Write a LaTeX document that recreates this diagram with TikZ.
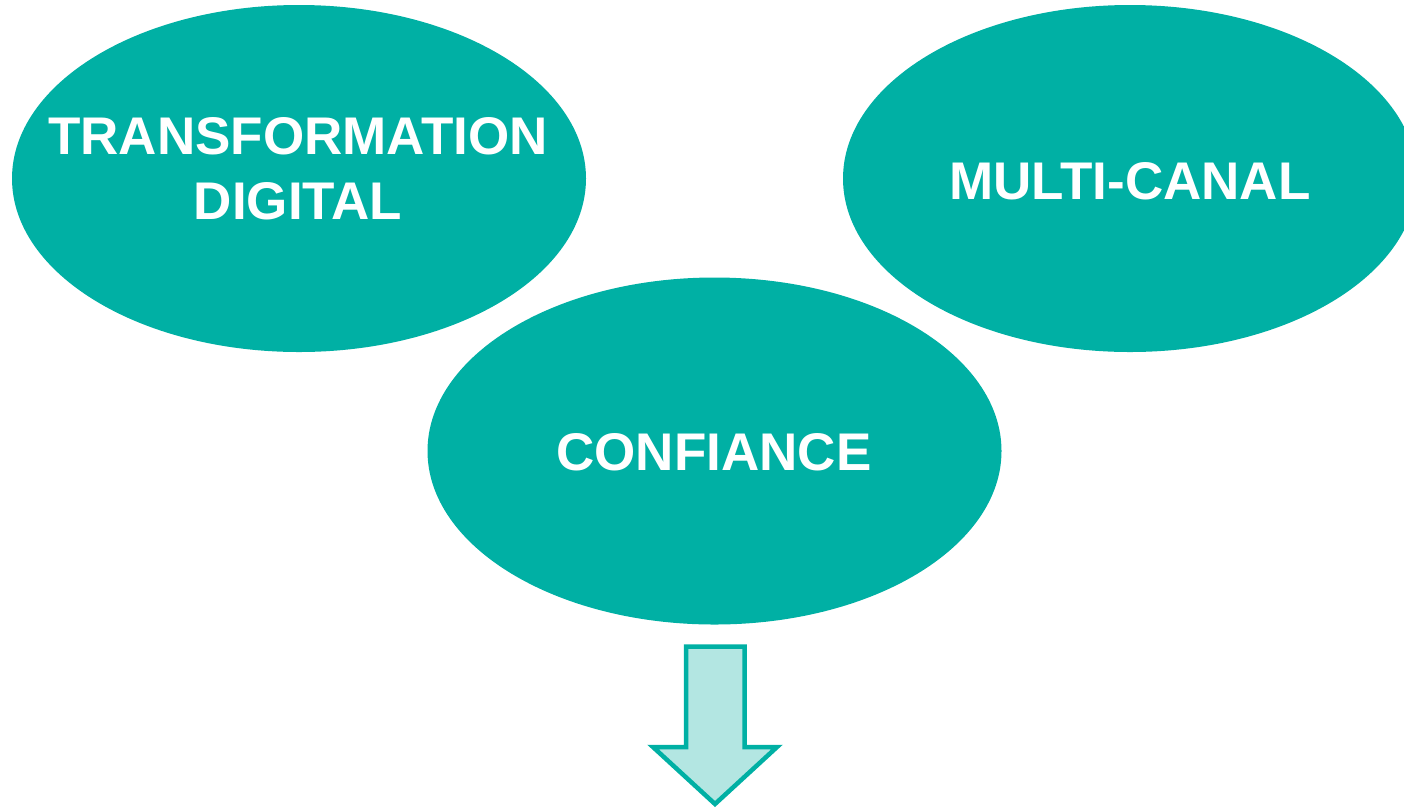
\documentclass[tikz,border=0pt]{standalone}
\usepackage{fontspec}
\setmainfont{Liberation Sans}
\usetikzlibrary{shapes.geometric}
\definecolor{teal1}{HTML}{00B0A4}
\definecolor{lightteal}{HTML}{B3E6E2}
\begin{document}
\begin{tikzpicture}[x=1pt,y=-1pt,
  bubble/.style={ellipse,fill=teal1,draw=none,minimum width=574pt,minimum height=347pt,inner sep=0pt},
  lbl/.style={text=white,font=\fontsize{53}{65}\selectfont\bfseries,align=center,inner sep=0pt},
  arrowshape/.style={fill=lightteal,draw=teal1,line width=4.5pt,line join=miter}]
\useasboundingbox (0,0) rectangle (1404,807);
\begin{scope}
\clip (0,0) rectangle (1404,807);
\node[bubble] (e1) at (299,178.5) {};
\node[bubble] (e2) at (1130,178.5) {};
\node[bubble] (e3) at (714.5,451) {};
\end{scope}
\node[lbl,anchor=base] (t1) at (298,219) {TRANSFORMATION\\DIGITAL};
\node[lbl,anchor=base] (t2) at (1130,199) {MULTI-CANAL};
\node[lbl,anchor=base] (t3) at (714,470.5) {CONFIANCE};
\draw[arrowshape] (686,646.5) -- (744.5,646.5) -- (744.5,747) -- (777,747) -- (715,804) -- (653,747) -- (686,747) -- cycle;
\end{tikzpicture}
\end{document}
